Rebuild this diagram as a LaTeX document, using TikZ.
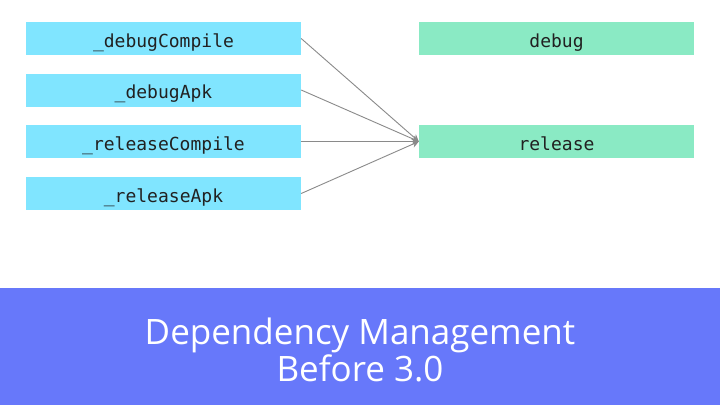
\documentclass[tikz,border=0pt]{standalone}
\usepackage{fontspec}
\setmainfont{Open Sans}
\newfontfamily\codefont{DejaVu Sans Mono}
\usetikzlibrary{arrows.meta}
\definecolor{taskblue}{RGB}{128,229,255}
\definecolor{variantgreen}{RGB}{138,234,196}
\definecolor{bannerblue}{RGB}{103,120,250}
\definecolor{linkgray}{RGB}{138,138,138}
\definecolor{codeink}{RGB}{33,33,33}
\begin{document}
\begin{tikzpicture}[x=1pt,y=-1pt,
  boxbase/.style={inner sep=0pt, minimum width=275pt, minimum height=33pt,
    text height=18pt, text depth=1pt,
    font=\codefont\fontsize{18}{20}\selectfont, text=codeink},
  taskbox/.style={boxbase, fill=taskblue},
  variantbox/.style={boxbase, fill=variantgreen},
  link/.style={draw=linkgray, line width=0.9pt, -{Stealth[length=7pt,width=7pt]}}]
  \useasboundingbox (0,0) rectangle (720,405);
  \fill[white] (0,0) rectangle (720,405);

  % configuration tasks
  \node[taskbox] (dc) at (163.5,38.5) {\_debugCompile};
  \node[taskbox] (da) at (163.5,90) {\_debugApk};
  \node[taskbox] (rc) at (163.5,141.5) {\_releaseCompile};
  \node[taskbox] (ra) at (163.5,193.5) {\_releaseApk};

  % build types
  \node[variantbox] (debug) at (556.5,38.5) {debug};
  \node[variantbox] (release) at (556.5,141.5) {release};

  % everything ends up in release
  \draw[link] (dc.east) -- (release.west);
  \draw[link] (da.east) -- (release.west);
  \draw[link] (rc.east) -- (release.west);
  \draw[link] (ra.east) -- (release.west);

  % title banner
  \fill[bannerblue] (0,288) rectangle (720,405);
  \node[text=white, align=center, font=\fontsize{35}{35}\selectfont] (title) at (360,350)
    {Dependency Management\\Before 3.0};
\end{tikzpicture}
\end{document}
